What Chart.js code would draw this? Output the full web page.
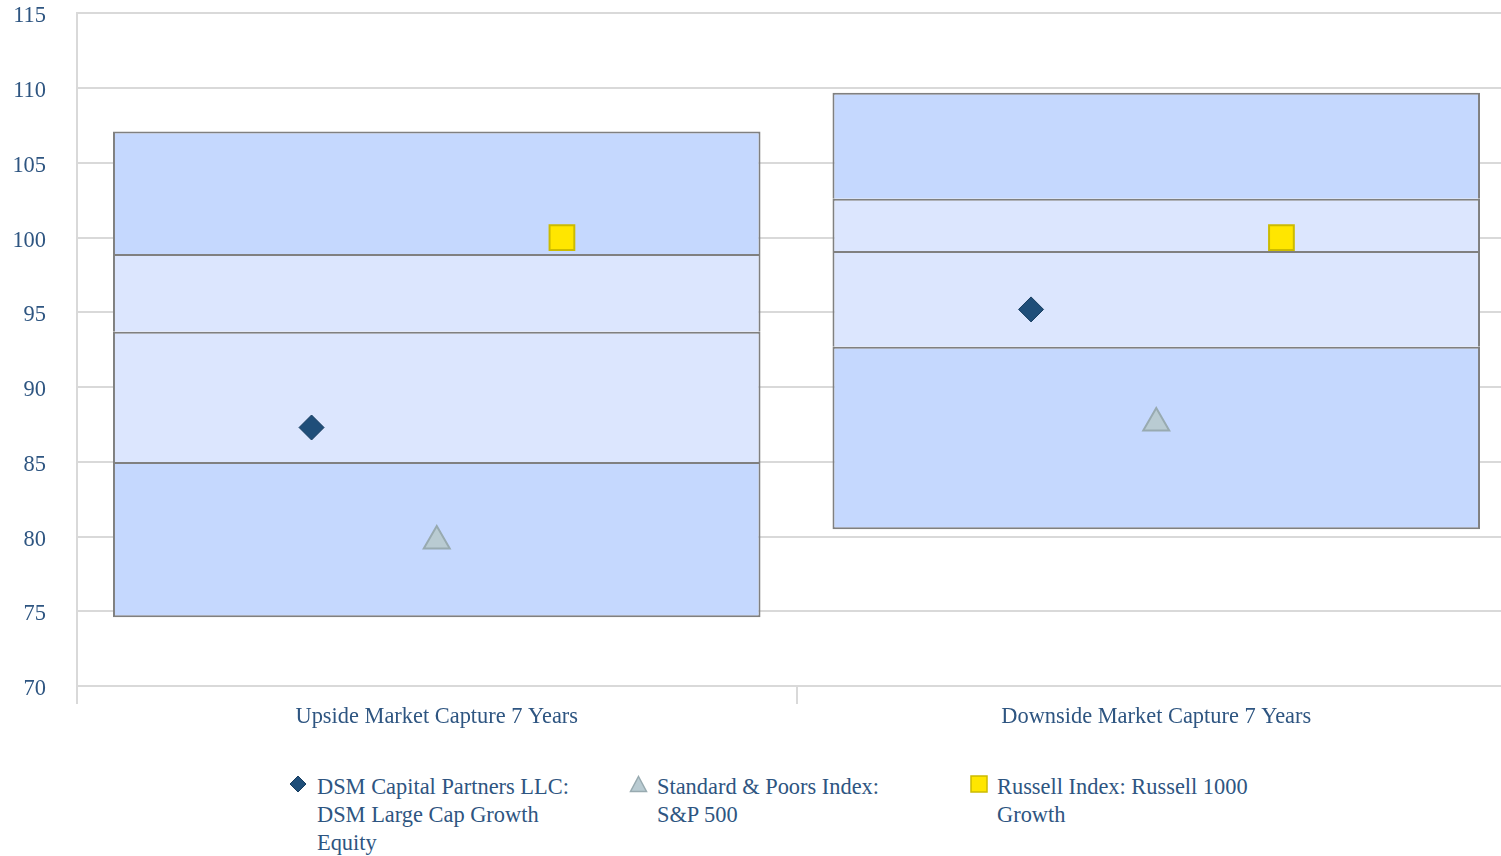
<!DOCTYPE html>
<html>
<head>
<meta charset="utf-8">
<script src="https://cdn.jsdelivr.net/npm/chart.js@4.4.0/dist/chart.umd.min.js"></script>
<style>
  html, body { margin: 0; padding: 0; background: #fff; overflow: hidden; }
  #wrap { position: relative; width: 1517px; height: 856px; }
  #box { position: absolute; left: 0; top: 0; width: 1517px; height: 731px; }
  .legend { position: absolute; top: 773px; font-family: "Liberation Serif", "Times New Roman", serif;
            font-size: 22.4px; line-height: 28px; color: #2e5581; white-space: nowrap; }
  .mark { position: absolute; }
</style>
</head>
<body>
<div id="wrap">
  <div id="box"><canvas id="myChart"></canvas></div>
  <div class="legend" style="left:317px">DSM Capital Partners LLC:<br>DSM Large Cap Growth<br>Equity</div>
  <div class="legend" style="left:657px">Standard &amp; Poors Index:<br>S&amp;P 500</div>
  <div class="legend" style="left:997px">Russell Index: Russell 1000<br>Growth</div>
  <svg class="mark" style="left:289px;top:775px" width="18" height="18"><polygon points="9,1 17,9 9,17 1,9" fill="#1f4e79" stroke="#173d60" stroke-width="1"/></svg>
  <svg class="mark" style="left:629px;top:775px" width="19" height="18"><polygon points="9.5,1.5 17.5,16.5 1.5,16.5" fill="#b9cbd2" stroke="#98aab0" stroke-width="1.5"/></svg>
  <svg class="mark" style="left:970px;top:775px" width="18" height="18"><rect x="1" y="1" width="16" height="16" fill="#ffe600" stroke="#ccbb00" stroke-width="1.5"/></svg>
</div>
<script>
// categories and percentile breaks of the peer universe
var categories = ['Upside Market Capture 7 Years', 'Downside Market Capture 7 Years'];
var p5 = [74.6, 80.5];
var p25 = [85.0, 92.7];
var p50 = [93.7, 99.1];
var p75 = [98.9, 102.6];
var p95 = [107.1, 109.7];

// series values
var dsm = [87.3, 95.2];
var sp500 = [79.7, 87.6];
var russell = [100.0, 100.0];

// y ticks
var yMin = 70, yMax = 115, yStep = 5;

// horizontal offset of each marker inside its category (category units)
var markerShift = [-0.174, 0, 0.174];

function main() {
    document.addEventListener("DOMContentLoaded", () => {
        chart();
    }, false);
};

function range(lo, hi) {
    return lo.map((v, i) => [v, hi[i]]);
}

function points(vals, shift) {
    return vals.map((v, i) => ({ x: i + shift, y: v }));
}

function chart() {
    var canvas = document.getElementById('myChart');
    canvas.width = 1517;
    canvas.height = 731;
    var ctx = canvas.getContext('2d');

    var dark = '#c5d8fe', light = '#dce6fe', edge = '#808080';
    var barBase = {
        type: 'bar',
        xAxisID: 'x',
        grouped: false,
        barPercentage: 0.9,
        categoryPercentage: 1,
        borderColor: edge,
        borderSkipped: false,
        order: 2
    };

    // each boundary is drawn once, by the box below it
    var data = {
        labels: categories,
        datasets: [
            Object.assign({ label: '5-25', data: range(p5, p25), backgroundColor: dark,
                borderWidth: { top: 2, bottom: 2, left: 2, right: 2 } }, barBase),
            Object.assign({ label: '25-50', data: range(p25, p50), backgroundColor: light,
                borderWidth: { top: 2, bottom: 0, left: 2, right: 2 } }, barBase),
            Object.assign({ label: '50-75', data: range(p50, p75), backgroundColor: light,
                borderWidth: { top: 2, bottom: 0, left: 2, right: 2 } }, barBase),
            Object.assign({ label: '75-95', data: range(p75, p95), backgroundColor: dark,
                borderWidth: { top: 2, bottom: 0, left: 2, right: 2 } }, barBase),
            {
                type: 'scatter', label: 'DSM Capital Partners LLC: DSM Large Cap Growth Equity',
                xAxisID: 'xp', data: points(dsm, markerShift[0]), order: 0,
                pointStyle: 'rectRot', pointRadius: 12.5,
                backgroundColor: '#1f4e79', borderColor: '#173d60', borderWidth: 1
            },
            {
                type: 'scatter', label: 'Standard & Poors Index: S&P 500',
                xAxisID: 'xp', data: points(sp500, markerShift[1]), order: 0,
                pointStyle: 'triangle', pointRadius: 15,
                backgroundColor: '#b9cbd2', borderColor: '#98aab0', borderWidth: 2
            },
            {
                type: 'scatter', label: 'Russell Index: Russell 1000 Growth',
                xAxisID: 'xp', data: points(russell, markerShift[2]), order: 0,
                pointStyle: 'rect', pointRadius: 17.5,
                backgroundColor: '#ffe600', borderColor: '#ccbb00', borderWidth: 2
            }
        ]
    };

    var tickFont = { family: '"Liberation Serif", "Times New Roman", serif', size: 22.4 };
    var textColor = '#2e5581';

    var myChart = new Chart(ctx, {
        type: 'bar',
        data: data,
        options: {
            responsive: false,
            animation: false,
            layout: { autoPadding: false, padding: { top: 13, right: 1, left: 0, bottom: 0 } },
            plugins: {
                legend: { display: false },
                tooltip: { enabled: false }
            },
            scales: {
                x: {
                    type: 'category',
                    offset: true,
                    grid: {
                        offset: true,
                        drawOnChartArea: false,
                        drawTicks: true,
                        tickLength: 18,
                        color: '#d9d9d9',
                        lineWidth: 2
                    },
                    border: { display: true, color: '#d9d9d9', width: 2 },
                    ticks: { font: tickFont, color: textColor, padding: 0 }
                },
                xp: {
                    type: 'linear',
                    position: 'top',
                    offset: false,
                    min: -0.5,
                    max: 1.5,
                    grid: { display: false, drawTicks: false },
                    border: { display: false },
                    ticks: { display: false },
                    afterFit: function (scale) { scale.height = 0; }
                },
                y: {
                    min: yMin,
                    max: yMax,
                    ticks: { stepSize: yStep, font: tickFont, color: textColor, padding: 0, labelOffset: 3 },
                    grid: {
                        color: '#d9d9d9', lineWidth: 2,
                        drawTicks: true, tickLength: 31, tickColor: 'rgba(0,0,0,0)'
                    },
                    border: { display: true, color: '#d9d9d9', width: 2 },
                    afterFit: function (scale) { scale.width = 77; }
                }
            }
        }
    });
};

main();
</script>
</body>
</html>
